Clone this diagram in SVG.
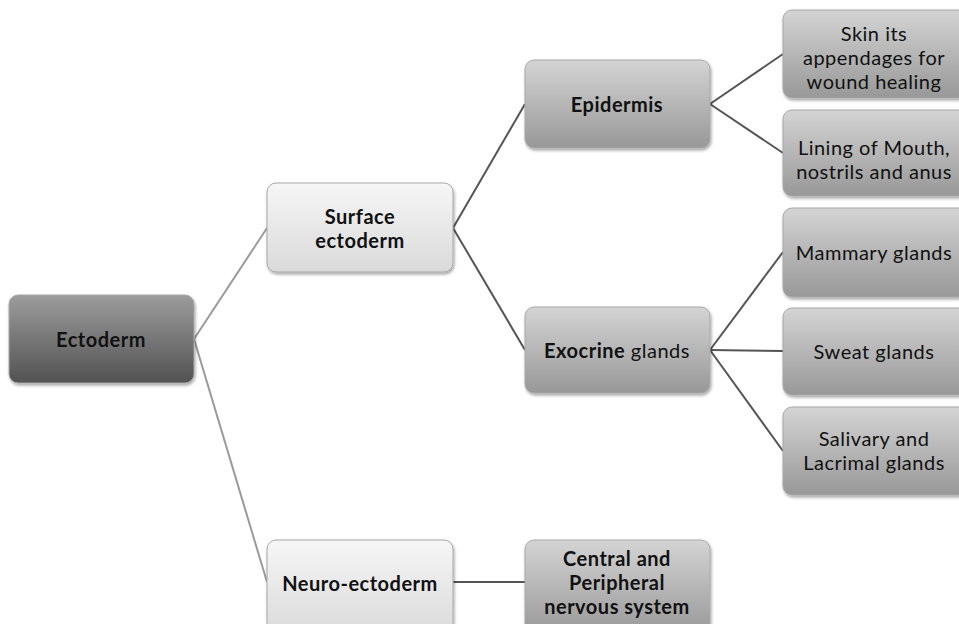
<svg xmlns="http://www.w3.org/2000/svg" width="959" height="624" viewBox="0 0 959 624">
<defs>
<linearGradient id="gDark" x1="0" y1="0" x2="0" y2="1"><stop offset="0" stop-color="#9c9c9c"/><stop offset="1" stop-color="#525252"/></linearGradient>
<linearGradient id="gLight" x1="0" y1="0" x2="0" y2="1"><stop offset="0" stop-color="#f6f6f6"/><stop offset="1" stop-color="#dadada"/></linearGradient>
<linearGradient id="gMid" x1="0" y1="0" x2="0" y2="1"><stop offset="0" stop-color="#d4d4d4"/><stop offset="1" stop-color="#989898"/></linearGradient>
<filter id="sh" x="-10%" y="-10%" width="120%" height="130%"><feDropShadow dx="1" dy="2" stdDeviation="1.5" flood-color="#000" flood-opacity="0.35"/></filter>
<style>
.box{stroke:#a8a8a8;stroke-width:1;filter:url(#sh)}
.dark{fill:url(#gDark)}
.light{fill:url(#gLight)}
.mid{fill:url(#gMid)}
text{font-family:Lato,"Open Sans","DejaVu Sans",sans-serif;font-size:20px;letter-spacing:0.5px;fill:#111;text-anchor:middle}
.b{font-weight:700}
.c{stroke:#555;stroke-width:2;fill:none}
.cl{stroke:#9a9a9a;stroke-width:2;fill:none}
</style>
</defs>
<rect width="959" height="624" fill="#fff"/>
<g id="connectors">
<line class="cl" x1="194" y1="339" x2="267" y2="228"/>
<line class="cl" x1="194" y1="339" x2="267" y2="582"/>
<line class="c" x1="453" y1="228" x2="525" y2="104"/>
<line class="c" x1="453" y1="228" x2="525" y2="350"/>
<line class="c" x1="710" y1="104" x2="783" y2="54"/>
<line class="c" x1="710" y1="104" x2="783" y2="153"/>
<line class="c" x1="710" y1="350" x2="783" y2="252"/>
<line class="c" x1="710" y1="350" x2="783" y2="351"/>
<line class="c" x1="710" y1="350" x2="783" y2="451"/>
<line class="c" x1="453" y1="582" x2="525" y2="582"/>
</g>
<g id="ectoderm"><rect class="box dark" x="9" y="295" width="185" height="88" rx="9"/><text class="b" x="101" y="347">Ectoderm</text></g>
<g id="surface"><rect class="box light" x="267" y="183" width="186" height="89" rx="9"/><text class="b" x="360" y="224">Surface</text><text class="b" x="360" y="248">ectoderm</text></g>
<g id="neuro"><rect class="box light" x="267" y="540" width="186" height="95" rx="9"/><text class="b" x="360" y="591">Neuro-ectoderm</text></g>
<g id="epidermis"><rect class="box mid" x="525" y="60" width="185" height="88" rx="9"/><text class="b" x="617" y="112">Epidermis</text></g>
<g id="exocrine"><rect class="box mid" x="525" y="307" width="185" height="86" rx="9"/><text x="617" y="358"><tspan class="b">Exocrine</tspan> glands</text></g>
<g id="central"><rect class="box mid" x="525" y="540" width="185" height="95" rx="9"/><text class="b" x="617" y="566">Central and</text><text class="b" x="617" y="590">Peripheral</text><text class="b" x="617" y="614">nervous system</text></g>
<g id="skin"><rect class="box mid" x="783" y="10" width="185" height="88" rx="9"/><text x="874" y="41">Skin its</text><text x="874" y="65">appendages  for</text><text x="874" y="89">wound healing</text></g>
<g id="lining"><rect class="box mid" x="783" y="110" width="185" height="86" rx="9"/><text x="874" y="155">Lining of Mouth,</text><text x="874" y="179">nostrils and anus</text></g>
<g id="mammary"><rect class="box mid" x="783" y="208" width="185" height="89" rx="9"/><text x="874" y="260">Mammary glands</text></g>
<g id="sweat"><rect class="box mid" x="783" y="308" width="185" height="87" rx="9"/><text x="874" y="359">Sweat glands</text></g>
<g id="salivary"><rect class="box mid" x="783" y="407" width="185" height="88" rx="9"/><text x="874" y="446">Salivary and</text><text x="874" y="470">Lacrimal glands</text></g>
</svg>
